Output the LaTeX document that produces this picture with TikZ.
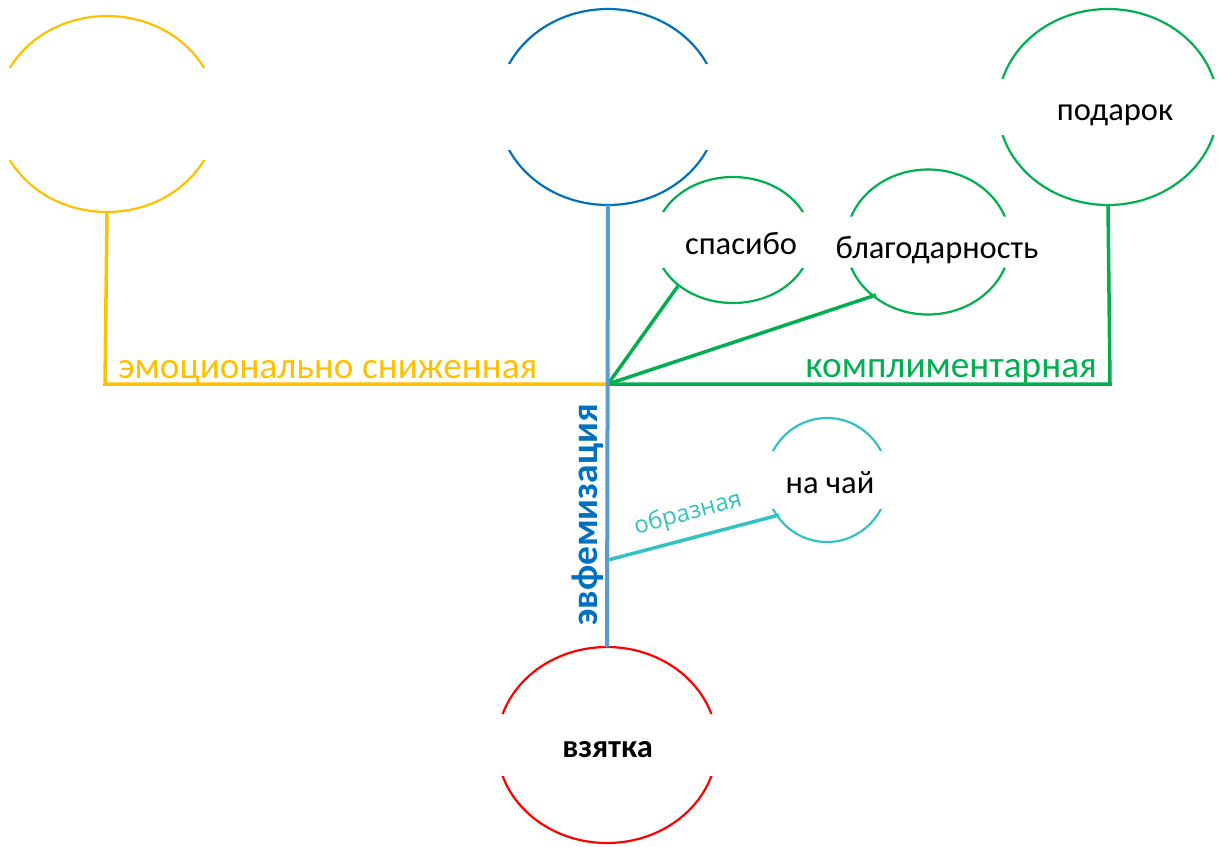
\documentclass[tikz,border=0pt]{standalone}
\usepackage{fontspec}
\setmainfont{Carlito}
\newfontfamily\figfont{Open Sans}
\usetikzlibrary{shapes.geometric}
\definecolor{cYellow}{HTML}{FFC000}
\definecolor{cBlue}{HTML}{0070C0}
\definecolor{cAxis}{HTML}{5B9BD5}
\definecolor{cGreen}{HTML}{00B050}
\definecolor{cTeal}{HTML}{33C2C2}
\definecolor{cRed}{HTML}{FF0000}
\begin{document}
\begin{tikzpicture}[x=1pt,y=-1pt,
  bubble/.style={ellipse,draw=none,inner sep=0pt,outer sep=0pt},
  word/.style={font=\fontsize{32.5}{38}\selectfont,text=black,anchor=base,inner sep=0pt},
  rim/.style={line width=2.2pt},
  link/.style={line width=3.5pt},
  axislabel/.style={font=\fontsize{37.3}{44}\selectfont,inner sep=0pt}]
\useasboundingbox (0,0) rectangle (1220,846);

% concept bubbles
\node[bubble,minimum width=220pt,minimum height=196pt] (emo) at (107,114) {};
\node[bubble,minimum width=220pt,minimum height=196pt] (euph) at (608,107) {};
\node[bubble,minimum width=220pt,minimum height=196pt] (gift) at (1108,107) {};
\node[bubble,minimum width=156pt,minimum height=126pt] (thanks) at (733,240) {};
\node[bubble,minimum width=164pt,minimum height=145pt] (grat) at (928,242) {};
\node[bubble,minimum width=122pt,minimum height=124pt] (tea) at (827,480) {};
\node[bubble,minimum width=220pt,minimum height=196pt] (bribe) at (607,745) {};

% texts inside the bubbles
\node[word] (tGift) at (1115,120) {подарок};
\node[word] (tThanks) at (741,254) {спасибо};
\node[word] (tGrat) at (937,258) {благодарность};
\node[word] (tTea) at (830,493) {на чай};
\node[word,font=\bfseries\fontsize{32.5}{38}\selectfont] (tBribe) at (607.5,757) {взятка};

% bubble outlines: only the upper and lower arcs are shown
\newcommand{\rimarcs}[6]{%
  \begin{scope}
    \clip (#2-#4-5,#3-#5-5) rectangle (#2+#4+5,#3-#5+#6)
          (#2-#4-5,#3+#5-#6) rectangle (#2+#4+5,#3+#5+5);
    \draw[rim,#1] (#2,#3) ellipse [x radius=#4,y radius=#5];
  \end{scope}}
\rimarcs{cYellow}{107}{114}{110}{98}{52}
\rimarcs{cBlue}{608}{107}{110}{98}{55}
\rimarcs{cGreen}{1108}{107}{110}{98}{70}
\rimarcs{cGreen}{733}{240}{78}{63}{35}
\rimarcs{cGreen}{928}{242}{82}{72.5}{47}
\rimarcs{cTeal}{827}{480}{61}{62}{33}
\rimarcs{cRed}{607}{745}{110}{98}{67}

% junction points of the axes
\coordinate (hub) at (608,384);
\coordinate (emoCorner) at (105,384);
\coordinate (giftCorner) at (1110,384);
\coordinate (thanksFoot) at (678,286);
\coordinate (gratFoot) at (876,295);
\coordinate (fig) at (608,560);
\coordinate (teaFoot) at (779,515);

% axes
\draw[link,cYellow] (emo.south) -- (emoCorner) -- (hub);
\draw[link,cGreen] (hub) -- (giftCorner) -- (gift.south);
\draw[link,cGreen] (hub) -- (thanksFoot);
\draw[link,cGreen] (hub) -- (gratFoot);
\draw[line width=4pt,cAxis] (euph.south) -- (bribe.north);
\draw[link,cTeal] (fig) -- (teaFoot);

% axis labels
\node[axislabel,text=cYellow,anchor=base west] (lEmo) at (118,378) {эмоционально сниженная};
\node[axislabel,text=cGreen,anchor=base east] (lCompl) at (1097,377) {комплиментарная};
\node[axislabel,text=cBlue,font=\bfseries\fontsize{37.5}{42}\selectfont,rotate=90] (lEuph) at (588,515) {эвфемизация};
\node[text=cTeal,font=\figfont\fontsize{24}{28}\selectfont,inner sep=0pt,rotate=14.8] (lFig) at (688,514) {образная};
\end{tikzpicture}
\end{document}
